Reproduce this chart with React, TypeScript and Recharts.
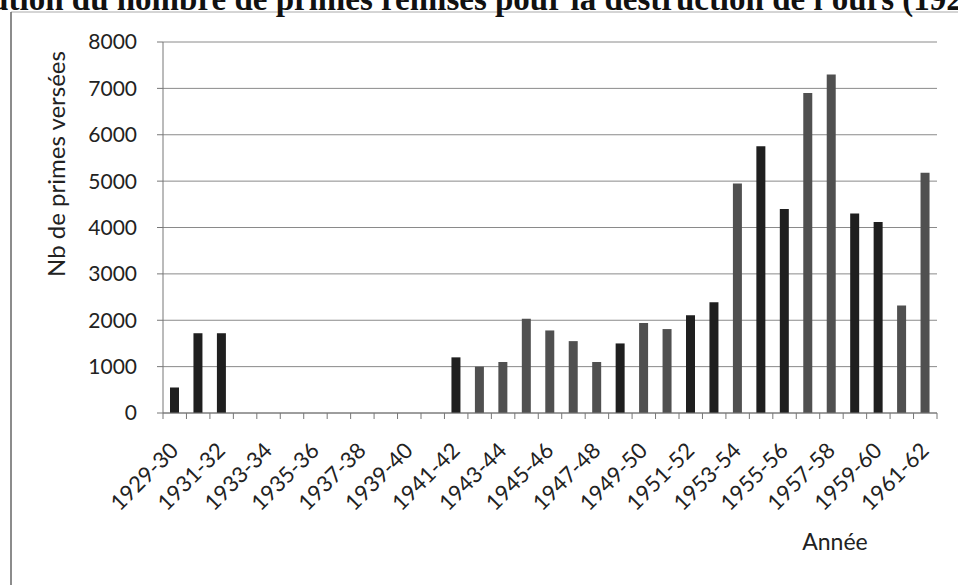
import React from "react"
import { Bar, BarChart, CartesianGrid, Cell, XAxis, YAxis } from "recharts"

const categories = [
  "1929-30", "1930-31", "1931-32", "1932-33", "1933-34", "1934-35", "1935-36", "1936-37",
  "1937-38", "1938-39", "1939-40", "1940-41", "1941-42", "1942-43", "1943-44", "1944-45",
  "1945-46", "1946-47", "1947-48", "1948-49", "1949-50", "1950-51", "1951-52", "1952-53",
  "1953-54", "1954-55", "1955-56", "1956-57", "1957-58", "1958-59", "1959-60", "1960-61",
  "1961-62",
]

// Nb de primes versées per campaign
const primes = [
  550, 1720, 1720, 0, 0, 0, 0, 0, 0, 0, 0, 0, 1200, 1000, 1100, 2030,
  1780, 1550, 1100, 1500, 1940, 1810, 2110, 2390, 4950, 5750, 4400, 6900,
  7300, 4300, 4120, 2320, 5180,
]

const yTicks = [0, 1000, 2000, 3000, 4000, 5000, 6000, 7000, 8000]

// scan shading: d = dark bar, g = grey bar
const barShades = [
  "d", "d", "d", "g", "g", "g", "g", "g", "g", "g", "g", "g", "d", "g", "g", "g",
  "g", "g", "g", "d", "g", "g", "d", "d", "g", "d", "d", "g", "g", "d", "d", "g",
  "g",
]

const FONT = "Lato, 'Open Sans', sans-serif"

const chartData = categories.map((name, i) => ({ name, primes: primes[i] }))

function XTick(props: any) {
  const { x, y, payload } = props
  const idx = payload.index
  const half = payload.offset || 0
  return (
    <g>
      <line x1={x - half} x2={x - half} y1={y - 8} y2={y - 2} stroke="#777" />
      {idx === categories.length - 1 && (
        <line x1={x + half} x2={x + half} y1={y - 8} y2={y - 2} stroke="#777" />
      )}
      {idx % 2 === 0 && (
        <text
          transform={`translate(${x + 5},${y + 31}) rotate(-45)`}
          textAnchor="end"
          fontFamily={FONT}
          fontSize={22}
          fill="#222"
        >
          {payload.value}
        </text>
      )}
    </g>
  )
}

export default function App() {
  return (
    <div style={{ position: "fixed", left: 0, top: 0, width: 958, height: 585, overflow: "hidden", background: "#fff" }}>
      <svg width={958} height={585} style={{ position: "absolute", left: 0, top: 0 }}>
        <line x1={11} y1={12} x2={958} y2={12} stroke="#aaa" />
        <line x1={11} y1={12} x2={11} y2={585} stroke="#666" strokeWidth={1.5} />
        <text x={-74} y={10} fontFamily="'Liberation Serif', 'Times New Roman', serif" fontWeight="bold" fontSize={33} fill="#111">
          Évolution du nombre de primes remises pour la destruction de l'ours (1929-1962)
        </text>
        <text transform="translate(65,164) rotate(-90)" textAnchor="middle" fontFamily={FONT} fontSize={24} fill="#222">
          Nb de primes versées
        </text>
        <text x={835} y={550} textAnchor="middle" fontFamily={FONT} fontSize={23} fill="#222">
          Année
        </text>
      </svg>
      <div style={{ position: "absolute", left: 0, top: 0 }}>
        <BarChart
          width={958}
          height={585}
          data={chartData}
          margin={{ top: 42, right: 21, left: 0, bottom: 0 }}
          barSize={9}
        >
          <CartesianGrid vertical={false} stroke="#8a8a8a" />
          <XAxis
            dataKey="name"
            interval={0}
            height={172}
            tickLine={false}
            axisLine={{ stroke: "#777" }}
            tick={<XTick />}
          />
          <YAxis
            width={163}
            domain={[0, 8000]}
            ticks={yTicks}
            interval={0}
            tickSize={6}
            tickMargin={20}
            tickLine={{ stroke: "#777" }}
            axisLine={{ stroke: "#777" }}
            tick={{ fontFamily: FONT, fontSize: 21, fill: "#222" }}
          />
          <Bar dataKey="primes" isAnimationActive={false}>
            {chartData.map((entry, i) => (
              <Cell key={entry.name} fill={barShades[i] === "d" ? "#1f1f1f" : "#505050"} />
            ))}
          </Bar>
        </BarChart>
      </div>
    </div>
  )
}
